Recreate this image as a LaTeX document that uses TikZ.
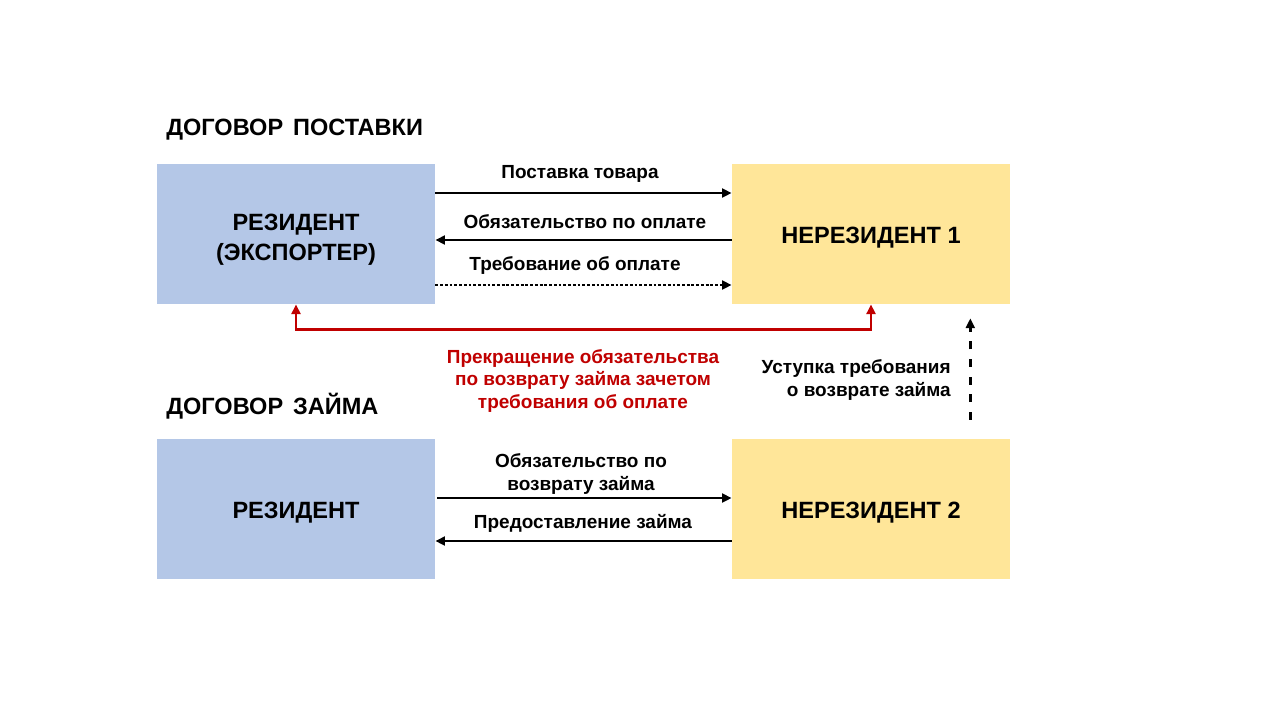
\documentclass[tikz,border=0pt]{standalone}
\usepackage{fontspec}
\setmainfont{Liberation Sans}
\usetikzlibrary{calc,arrows.meta}
\definecolor{resblue}{HTML}{B4C7E7}
\definecolor{nonresyellow}{HTML}{FFE699}
\definecolor{setoffred}{HTML}{C00000}

\begin{document}
\begin{tikzpicture}[x=0.02cm,y=-0.02cm,
    party/.style={minimum width=5.56cm,minimum height=2.8cm,inner sep=0pt,align=center,
        font=\bfseries\fontsize{13.4}{17}\selectfont,execute at begin node={\rule{0pt}{13.5pt}}},
    heading/.style={anchor=west,inner sep=0pt,font=\bfseries\fontsize{13.4}{16}\selectfont},
    flowlabel/.style={inner sep=0pt,align=center,font=\bfseries\fontsize{10.8}{13}\selectfont},
    flow/.style={line width=1.5pt,-{Triangle[length=5.5pt,width=5pt]}},
    claim/.style={flow,dash pattern=on 1.6pt off 1.1pt},
    cession/.style={flow,dash pattern=on 4.5pt off 5.5pt},
    setoff/.style={line width=1.5pt,setoffred,{Triangle[length=5.5pt,width=5pt]}-{Triangle[length=5.5pt,width=5pt]}}]
    \fill[white] (0,0) rectangle (1280,720);
    \useasboundingbox (0,0) rectangle (1280,720);

    % supply contract
    \node[heading] (supplyhead) at (166,130) {ДОГОВОР\hspace{0.42em}ПОСТАВКИ};
    \node[party,fill=resblue] (res1) at (296,234) {\rule{0pt}{16pt}РЕЗИДЕНТ\\(ЭКСПОРТЕР)};
    \node[party,fill=nonresyellow] (nonres1) at (871,234) {НЕРЕЗИДЕНТ 1};
    \draw[flow] ($(res1.east)+(0,-41)$) -- ($(nonres1.west)+(0,-41)$);
    \draw[flow] ($(nonres1.west)+(0,6)$) -- ($(res1.east)+(0,6)$);
    \draw[claim] ($(res1.east)+(0,51)$) -- ($(nonres1.west)+(0,51)$);
    \node[flowlabel] (goods) at (580,174) {Поставка товара};
    \node[flowlabel] (payduty) at (585,222) {Обязательство по оплате};
    \node[flowlabel] (payclaim) at (575,266) {Требование об оплате};

    % loan contract
    \node[heading] (loanhead) at (166,406) {ДОГОВОР\hspace{0.42em}ЗАЙМА};
    \node[party,fill=resblue] (res2) at (296,509) {РЕЗИДЕНТ};
    \node[party,fill=nonresyellow] (nonres2) at (871,509) {НЕРЕЗИДЕНТ 2};
    \draw[flow] ($(res2.east)+(2,-11)$) -- ($(nonres2.west)+(0,-11)$);
    \draw[flow] ($(nonres2.west)+(0,32)$) -- ($(res2.east)+(0,32)$);
    \node[flowlabel,font=\bfseries\fontsize{10.8}{13.6}\selectfont] (loanduty) at (581,474) {Обязательство по\\возврату займа};
    \node[flowlabel] (loangiven) at (583,523) {Предоставление займа};

    % set-off
    \draw[setoff] (res1.south) -- ++(0,25) -| (nonres1.south);
    \node[flowlabel,text=setoffred,font=\bfseries\fontsize{10.8}{12.8}\selectfont] (setofftext) at (583,381)
        {Прекращение обязательства\\по возврату займа зачетом\\требования об оплате};

    % cession
    \draw[cession] ($(nonres2.north east)+(-40,-19)$) -- ($(nonres1.south east)+(-40,14)$);
    \node[flowlabel,align=right,anchor=east] (cessiontext) at (951,380) {Уступка требования\\о возврате займа};
\end{tikzpicture}
\end{document}
